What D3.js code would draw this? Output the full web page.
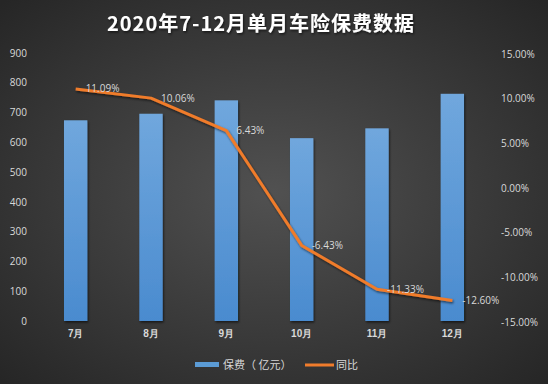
<!DOCTYPE html>
<html>
<head>
<meta charset="utf-8">
<script src="https://cdn.jsdelivr.net/npm/d3@7"></script>
<style>
  html, body { margin: 0; padding: 0; background: #333; }
  svg { display: block; font-family: "Noto Sans CJK SC", "Noto Sans", sans-serif; }
</style>
</head>
<body>
<svg id="chart" width="548" height="384"></svg>
<script>
const months = ["7月", "8月", "9月", "10月", "11月", "12月"];
const premium = [674, 696, 741, 614, 647, 763];
const yoy = [11.09, 10.06, 6.43, -6.43, -11.33, -12.60];
const leftTicks = [0, 100, 200, 300, 400, 500, 600, 700, 800, 900];
const rightTicks = [-15, -10, -5, 0, 5, 10, 15];

const width = 548, height = 384;
const margin = {top: 54, right: 58, bottom: 63, left: 38};

let svg = d3.select('#chart');
let defs = svg.append('defs');

let bg = defs.append('radialGradient').attr('id', 'bg')
    .attr('cx', '50%').attr('cy', '50%').attr('r', '70%');
bg.append('stop').attr('offset', '0%').attr('stop-color', '#515151');
bg.append('stop').attr('offset', '100%').attr('stop-color', '#262626');

let barGrad = defs.append('linearGradient').attr('id', 'barGrad')
    .attr('x1', 0).attr('y1', 0).attr('x2', 0).attr('y2', 1);
barGrad.append('stop').attr('offset', '0%').attr('stop-color', '#70a7dd');
barGrad.append('stop').attr('offset', '100%').attr('stop-color', '#4a8bcf');

let shadow = defs.append('filter').attr('id', 'shadow')
    .attr('x', '-20%').attr('y', '-20%').attr('width', '140%').attr('height', '140%');
shadow.append('feDropShadow').attr('dx', 1).attr('dy', 1.5).attr('stdDeviation', 1)
    .attr('flood-color', '#000').attr('flood-opacity', 0.6);

svg.append('rect').attr('width', width).attr('height', height).attr('fill', 'url(#bg)');

// title
svg.append('text')
    .attr('x', 261).attr('y', 31)
    .attr('text-anchor', 'middle')
    .attr('fill', '#ffffff')
    .attr('font-size', 20)
    .attr('font-weight', 'bold')
    .attr('letter-spacing', 1)
    .attr('filter', 'url(#shadow)')
    .text('2020年7-12月单月车险保费数据');

let x = d3.scaleBand()
    .domain(months)
    .range([margin.left, width - margin.right])
    .paddingInner(0.69)
    .paddingOuter(0.345);

let yLeft = d3.scaleLinear().domain([0, 900]).range([321, margin.top - 1]);
let yRight = d3.scaleLinear().domain([-15, 15]).range([322, margin.top]);

// left axis
let leftAxis = d3.axisLeft(yLeft).tickValues(leftTicks).tickSize(0).tickPadding(0);
let gl = svg.append('g').attr('transform', 'translate(27,0)').call(leftAxis);
gl.select('.domain').remove();
gl.selectAll('text').attr('fill', '#d9d9d9').attr('font-size', 10)
    .attr('font-family', '"Open Sans", "Noto Sans", sans-serif');

// right axis
let rightAxis = d3.axisRight(yRight).tickValues(rightTicks).tickSize(0).tickPadding(0)
    .tickFormat(d => d.toFixed(2) + '%');
let gr = svg.append('g').attr('transform', 'translate(501,0)').call(rightAxis);
gr.select('.domain').remove();
gr.selectAll('text').attr('fill', '#d9d9d9').attr('font-size', 10)
    .attr('font-family', '"Open Sans", "Noto Sans", sans-serif');

// bars
svg.append('g').selectAll('rect')
    .data(premium)
    .enter()
    .append('rect')
        .attr('x', (d, i) => x(months[i]))
        .attr('y', d => yLeft(d))
        .attr('width', x.bandwidth())
        .attr('height', d => yLeft(0) - yLeft(d))
        .attr('fill', 'url(#barGrad)')
        .attr('filter', 'url(#shadow)');

// category axis
let bottomAxis = d3.axisBottom(x).tickSize(0).tickPadding(0);
let gb = svg.append('g').attr('transform', 'translate(0,330)').call(bottomAxis);
gb.select('.domain').remove();
gb.selectAll('text').attr('fill', '#d9d9d9').attr('font-size', 10).attr('font-weight', 'bold');

// line
let line = d3.line()
    .x((d, i) => x(months[i]) + x.bandwidth() / 2)
    .y(d => yRight(d));

svg.append('path')
    .datum(yoy)
    .attr('d', line)
    .attr('fill', 'none')
    .attr('stroke', '#f07c2c')
    .attr('stroke-width', 3)
    .attr('stroke-linejoin', 'round')
    .attr('filter', 'url(#shadow)');

svg.append('g').selectAll('text')
    .data(yoy)
    .enter()
    .append('text')
        .attr('x', (d, i) => x(months[i]) + x.bandwidth() / 2 + 10)
        .attr('y', d => yRight(d))
        .attr('dy', '0.35em')
        .attr('fill', '#d9d9d9')
        .attr('font-size', 10)
        .attr('font-family', '"Open Sans", "Noto Sans", sans-serif')
        .text(d => d.toFixed(2) + '%');

// legend
let legend = svg.append('g');
legend.append('rect').attr('x', 195).attr('y', 362).attr('width', 24).attr('height', 5).attr('fill', '#5b9bd5');
legend.append('text').attr('x', 223).attr('y', 365).attr('dy', '0.35em')
    .attr('fill', '#d9d9d9').attr('font-size', 11).text('保费（ 亿元）');
legend.append('line').attr('x1', 305).attr('x2', 334).attr('y1', 365).attr('y2', 365)
    .attr('stroke', '#f07c2c').attr('stroke-width', 3);
legend.append('text').attr('x', 336).attr('y', 365).attr('dy', '0.35em')
    .attr('fill', '#d9d9d9').attr('font-size', 11).text('同比');
</script>
</body>
</html>
